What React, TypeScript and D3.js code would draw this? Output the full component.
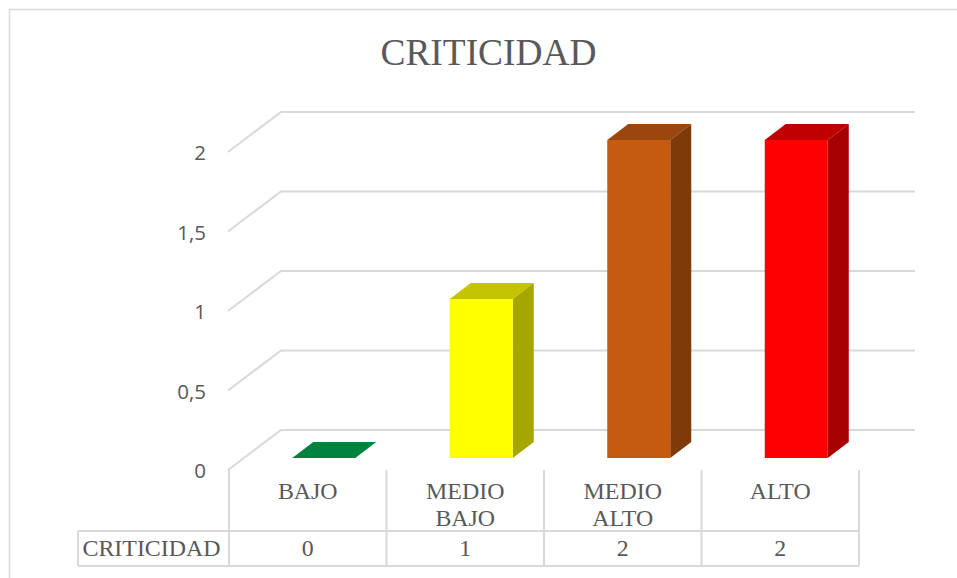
import React from "react";
import * as d3 from "d3";

const title = "CRITICIDAD";
const categories = [["BAJO"], ["MEDIO", "BAJO"], ["MEDIO", "ALTO"], ["ALTO"]];
const values = [0, 1, 2, 2];
const tickValues = [0, 0.5, 1, 1.5, 2];
const tickLabels = ["0", "0,5", "1", "1,5", "2"];
const frontColors = ["#00843d", "#ffff00", "#c55a11", "#ff0000"];
const topColors = ["#00843d", "#c4c400", "#9a460d", "#c00000"];
const sideColors = ["#006b31", "#a6a600", "#7f3a0a", "#a60000"];

const GRID = "#d9d9d9";
const TEXT = "#595959";
const SERIF = "'Liberation Serif', serif";
const SANS = "'Open Sans', 'Noto Sans', sans-serif";

const dx = 21, dy = -16;
const wallDx = 53, wallDy = -40;
const xBand = d3.scaleBand<number>().domain(d3.range(categories.length)).range([229, 859]).paddingInner(0).paddingOuter(0);
const yFloor = d3.scaleLinear().domain([0, 2]).range([470, 152]);
const yBar = d3.scaleLinear().domain([0, 2]).range([458, 140]);
const BAR_W = 63;
const BAR_SHIFT = 16;

export default function App() {
  const band = xBand.bandwidth();
  return (
    <svg width={957} height={578} style={{ position: "absolute", left: 0, top: 0, background: "#fff" }}>
      <path d="M9.5 578V9.5H957" fill="none" stroke={GRID} strokeWidth={1.5} />
      <text x={488.5} y={65} textAnchor="middle" fontFamily={SERIF} fontSize={37.4} fill={TEXT}>{title}</text>

      {tickValues.map((t, i) => {
        const y = yFloor(t);
        return (
          <g key={t}>
            <path d={`M228 ${y}L${228 + wallDx} ${y + wallDy}H915`} fill="none" stroke={GRID} strokeWidth={2} />
            <text x={206} y={y + 8} textAnchor="end" fontFamily={SANS} fontSize={20.5} fill={TEXT}>{tickLabels[i]}</text>
          </g>
        );
      })}

      {values.map((v, i) => {
        const x0 = xBand(i)! + (band - BAR_W) / 2 + BAR_SHIFT;
        const x1 = x0 + BAR_W;
        const yb = yBar(0);
        const yt = yBar(v);
        return (
          <g key={i}>
            {v > 0 && <path d={`M${x0} ${yt}L${x0 + dx} ${yt + dy}H${x1 + dx}L${x1} ${yt}Z`} fill={topColors[i]} />}
            {v > 0 && <path d={`M${x1} ${yt}L${x1 + dx} ${yt + dy}V${yb + dy}L${x1} ${yb}Z`} fill={sideColors[i]} />}
            {v > 0 && <rect x={x0} y={yt} width={BAR_W} height={yb - yt} fill={frontColors[i]} />}
            {v === 0 && <path d={`M${x0} ${yb}L${x0 + dx} ${yb + dy}H${x1 + dx}L${x1} ${yb}Z`} fill={topColors[i]} />}
          </g>
        );
      })}

      {/* data table */}
      <path d="M78 531H859M78 566H859M78 531V566" fill="none" stroke={GRID} strokeWidth={2} />
      {d3.range(categories.length + 1).map((i) => {
        const x = xBand.range()[0] + i * band;
        return <line key={i} x1={x} x2={x} y1={470} y2={566} stroke={GRID} strokeWidth={2} />;
      })}
      <text x={151.5} y={556} textAnchor="middle" fontFamily={SERIF} fontSize={23.9} fill={TEXT}>{title}</text>
      {categories.map((lines, i) => {
        const cx = xBand(i)! + band / 2;
        return (
          <g key={i}>
            {lines.map((l, j) => (
              <text key={l} x={cx} y={499 + j * 27} textAnchor="middle" fontFamily={SERIF} fontSize={23.9} fill={TEXT}>{l}</text>
            ))}
            <text x={cx} y={556} textAnchor="middle" fontFamily={SERIF} fontSize={23.9} fill={TEXT}>{values[i]}</text>
          </g>
        );
      })}
    </svg>
  );
}
